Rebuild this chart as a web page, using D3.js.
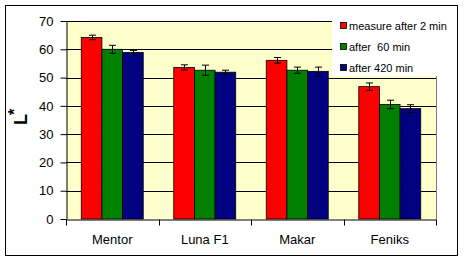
<!DOCTYPE html>
<html>
<head>
<meta charset="utf-8">
<script src="https://cdn.jsdelivr.net/npm/d3@7/dist/d3.min.js"></script>
<style>
  body { margin: 0; background: #fff; }
  svg { display: block; font-family: Arial, "Liberation Sans", sans-serif; }
</style>
</head>
<body>
<div id="chart"></div>
<script>
// L* values
const categories = ["Mentor", "Luna F1", "Makar", "Feniks"];
const seriesNames = ["measure after 2 min", "after  60 min", "after 420 min"];
const seriesColors = ["#ff0000", "#008000", "#000080"];
const values = [
    [64.2, 53.6, 56.1, 46.8],   // after 2 min
    [60.0, 52.6, 52.6, 40.5],   // after 60 min
    [58.9, 51.9, 52.2, 39.0]    // after 420 min
];
const errors = [
    [0.8, 0.9, 1.0, 1.3],
    [1.4, 1.8, 1.1, 1.5],
    [0.7, 0.7, 1.5, 1.4]
];
const yTicks = [0, 10, 20, 30, 40, 50, 60, 70];

const width = 464, height = 262;
const plot = { left: 66, right: 436, top: 21, bottom: 219 };

const svg = d3.select("#chart").append("svg")
    .attr("width", width)
    .attr("height", height);

// outer frame
svg.append("rect")
    .attr("x", 5.5).attr("y", 5.5)
    .attr("width", 452).attr("height", 250)
    .attr("fill", "#fff")
    .attr("stroke", "#000");

const x0 = d3.scaleBand()
    .domain(categories)
    .range([plot.left, plot.right])
    .paddingInner(0.33)
    .paddingOuter(0.165);

const x1 = d3.scaleBand()
    .domain(d3.range(seriesNames.length))
    .range([0, x0.bandwidth()]);

const y = d3.scaleLinear()
    .domain([0, 70])
    .range([plot.bottom, plot.top]);

// plot area background
svg.append("rect")
    .attr("x", plot.left).attr("y", plot.top)
    .attr("width", plot.right - plot.left)
    .attr("height", plot.bottom - plot.top)
    .attr("fill", "#ffffcc");

// gridlines
svg.append("g")
    .selectAll("line")
    .data(yTicks.filter(d => d > 0))
    .join("line")
    .attr("x1", plot.left).attr("x2", plot.right)
    .attr("y1", d => Math.round(y(d)) + 0.5)
    .attr("y2", d => Math.round(y(d)) + 0.5)
    .attr("stroke", "#000");

// right border of plot
svg.append("line")
    .attr("x1", plot.right + 0.5).attr("x2", plot.right + 0.5)
    .attr("y1", plot.top).attr("y2", plot.bottom)
    .attr("stroke", "#808080");

// bars
const flat = [];
categories.forEach((c, ci) => {
    seriesNames.forEach((s, si) => {
        flat.push({ cat: c, si: si, v: values[si][ci], e: errors[si][ci] });
    });
});

svg.append("g")
    .selectAll("rect")
    .data(flat)
    .join("rect")
    .attr("x", d => x0(d.cat) + x1(d.si))
    .attr("y", d => y(d.v))
    .attr("width", x1.bandwidth())
    .attr("height", d => y(0) - y(d.v))
    .attr("fill", d => seriesColors[d.si])
    .attr("stroke", "#000")
    .attr("stroke-width", 0.8);

// error bars
const eb = svg.append("g").attr("stroke", "#000").attr("stroke-width", 1);
flat.forEach(d => {
    const cx = Math.round(x0(d.cat) + x1(d.si) + x1.bandwidth() / 2) + 0.5;
    const yt = y(d.v + d.e), yb = y(d.v - d.e);
    eb.append("line").attr("x1", cx).attr("x2", cx).attr("y1", yt).attr("y2", yb);
    eb.append("line").attr("x1", cx - 3.5).attr("x2", cx + 3.5).attr("y1", yt).attr("y2", yt);
    eb.append("line").attr("x1", cx - 3.5).attr("x2", cx + 3.5).attr("y1", yb).attr("y2", yb);
});

// y axis
const yAxis = svg.append("g")
    .attr("transform", `translate(${plot.left + 0.5},0)`)
    .call(d3.axisLeft(y).tickValues(yTicks).tickSize(6).tickPadding(7).tickSizeOuter(0));
yAxis.select(".domain").attr("stroke", "#000");
yAxis.selectAll(".tick line").attr("stroke", "#000");
yAxis.selectAll("text").attr("font-size", 13).attr("fill", "#000")
    .attr("font-family", "Arial, 'Liberation Sans', sans-serif");

// x axis
const xAxis = svg.append("g")
    .attr("transform", `translate(0,${plot.bottom + 0.5})`)
    .call(d3.axisBottom(x0).tickSize(0).tickPadding(15));
xAxis.select(".domain").attr("stroke", "#000");
xAxis.selectAll("text").attr("font-size", 13).attr("fill", "#000")
    .attr("font-family", "Arial, 'Liberation Sans', sans-serif");
// category divider ticks
xAxis.append("g")
    .selectAll("line")
    .data(categories.map(c => x0(c) - x0.step() * x0.paddingInner() / 2).concat([plot.right]))
    .join("line")
    .attr("x1", d => Math.round(d) + 0.5).attr("x2", d => Math.round(d) + 0.5)
    .attr("y1", 0).attr("y2", 6)
    .attr("stroke", "#000");

// y axis title L*
const yt = svg.append("text")
    .attr("transform", "translate(27,125) rotate(-90)")
    .attr("font-size", 18)
    .attr("font-weight", "bold")
    .attr("fill", "#000");
yt.append("tspan").text("L");
yt.append("tspan").attr("dy", -7).attr("dx", -1).attr("font-size", 16).text("*");

// legend
const legend = svg.append("g");
legend.append("rect")
    .attr("x", 332).attr("y", 12)
    .attr("width", 114).attr("height", 64)
    .attr("fill", "#fff");
const li = legend.selectAll("g")
    .data(seriesNames)
    .join("g")
    .attr("transform", (d, i) => `translate(340,${26 + i * 21})`);
li.append("rect")
    .attr("x", 0.5).attr("y", -3.5)
    .attr("width", 6).attr("height", 6)
    .attr("fill", (d, i) => seriesColors[i])
    .attr("stroke", "#000")
    .attr("stroke-width", 0.8);
li.append("text")
    .attr("x", 9).attr("y", 4)
    .attr("font-size", 11)
    .attr("fill", "#000")
    .attr("xml:space", "preserve")
    .style("white-space", "pre")
    .text(d => d);
</script>
</body>
</html>
